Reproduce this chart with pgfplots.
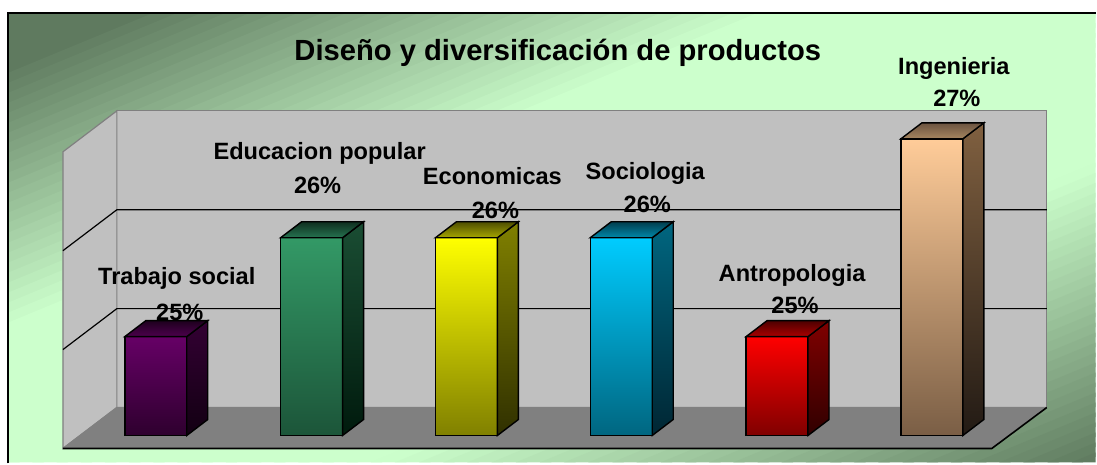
\documentclass[border=0pt]{standalone}
\usepackage{pgfplots}
\pgfplotsset{compat=1.18}
\usepackage{fontspec}
\setmainfont{Liberation Sans}

\definecolor{bgdark}{HTML}{5F7A5F}
\definecolor{bglight}{HTML}{CCFFCC}
\definecolor{wall}{HTML}{C0C0C0}
\definecolor{wallline}{HTML}{808080}
\definecolor{floorc}{HTML}{808080}
% bar colours: front top / front bottom / side top / side bottom / top back / top front
\definecolor{pA}{HTML}{660066}\definecolor{pB}{HTML}{2E002E}\definecolor{pC}{HTML}{330033}\definecolor{pD}{HTML}{120012}\definecolor{pE}{HTML}{1E001E}\definecolor{pF}{HTML}{4D004D}
\definecolor{gA}{HTML}{339966}\definecolor{gB}{HTML}{1C5539}\definecolor{gC}{HTML}{1A4D33}\definecolor{gD}{HTML}{001A0D}\definecolor{gE}{HTML}{0F2E1F}\definecolor{gF}{HTML}{267350}
\definecolor{yA}{HTML}{FFFF00}\definecolor{yB}{HTML}{808000}\definecolor{yC}{HTML}{808000}\definecolor{yD}{HTML}{303000}\definecolor{yE}{HTML}{4D4D00}\definecolor{yF}{HTML}{A6A600}
\definecolor{cA}{HTML}{00CCFF}\definecolor{cB}{HTML}{006680}\definecolor{cC}{HTML}{006680}\definecolor{cD}{HTML}{002633}\definecolor{cE}{HTML}{003D4D}\definecolor{cF}{HTML}{0088AA}
\definecolor{rA}{HTML}{FF0000}\definecolor{rB}{HTML}{800000}\definecolor{rC}{HTML}{800000}\definecolor{rD}{HTML}{300000}\definecolor{rE}{HTML}{4D0000}\definecolor{rF}{HTML}{AA0000}
\definecolor{tA}{HTML}{FFCC99}\definecolor{tB}{HTML}{7A5E45}\definecolor{tC}{HTML}{806040}\definecolor{tD}{HTML}{221A14}\definecolor{tE}{HTML}{6B5340}\definecolor{tF}{HTML}{A68660}

\newcommand{\lab}{\bfseries\fontsize{11.8}{14}\selectfont}
\pgfplotsset{
  face/.style 2 args={draw=black, line width=0.7pt, top color=#1, bottom color=#2},
}

\begin{document}
\begin{tikzpicture}
% diagonal background gradient inside the chart frame
\begin{scope}
\clip (4pt,0.5pt) rectangle (548.5pt,225.5pt);
\begin{scope}[shift={(4pt,225.5pt)}, x={(544.5pt,0pt)}, y={(0pt,-225pt)}]
\foreach \i in {0,...,89}{
  \pgfmathsetmacro\tm{(\i+0.5)/90}
  \pgfmathsetmacro\gp{100*max(0,min(1,min((\tm-0.06)/0.29,(1-\tm)/0.33)))}
  \pgfmathsetmacro\ca{2*\i/90}
  \pgfmathsetmacro\cb{2*(\i+1)/90+0.01}
  \fill[overlay, bglight!\gp!bgdark] (\ca,0) -- (\cb,0) -- (\cb-1,1) -- (\ca-1,1) -- cycle;
}
\end{scope}
\end{scope}
\begin{axis}[
  scale only axis,
  width=548.5pt, height=232pt,
  xmin=0, xmax=1097, ymin=23.7172, ymax=28.4040,
  axis line style={draw=none},
  xtick=\empty, ytick=\empty,
  clip=false,
]
% frame
\draw[line width=1.3pt] (8,23.7172) -- (8,28.2727) -- (1097,28.2727);

% back wall
\fill[wall] (117,24.2828) rectangle (1048,27.2828);
\draw[wallline, line width=0.6pt] (117,24.2828) rectangle (1048,27.2828);
% side wall
\fill[wall] (63,23.8687) -- (117,24.2828) -- (117,27.2828) -- (63,26.8687) -- cycle;
\draw[wallline, line width=0.6pt] (63,23.8687) -- (117,24.2828) -- (117,27.2828) -- (63,26.8687) -- cycle;
% gridlines
\draw[black, line width=0.6pt] (63,24.8687) -- (117,25.2828) -- (1048,25.2828);
\draw[black, line width=0.6pt] (63,25.8687) -- (117,26.2828) -- (1048,26.2828);
% floor
\fill[floorc] (63,23.8687) -- (993,23.8687) -- (1048,24.2828) -- (117,24.2828) -- cycle;
\draw[wallline, line width=0.6pt] (63,23.8687) -- (117,24.2828) -- (1048,24.2828);
\draw[black, line width=0.8pt] (63,23.8687) -- (993,23.8687) -- (1048,24.2828);

% ---- Trabajo social 25
\addplot[face={pA}{pB}] coordinates {(125,24) (187,24) (187,25) (125,25)} -- cycle;
\addplot[face={pC}{pD}] coordinates {(187,24) (208,24.1616) (208,25.1616) (187,25)} -- cycle;
\addplot[face={pE}{pF}] coordinates {(125,25) (187,25) (208,25.1616) (146,25.1616)} -- cycle;
% ---- Educacion popular 26
\addplot[face={gA}{gB}] coordinates {(281,24) (343,24) (343,26) (281,26)} -- cycle;
\addplot[face={gC}{gD}] coordinates {(343,24) (364,24.1616) (364,26.1616) (343,26)} -- cycle;
\addplot[face={gE}{gF}] coordinates {(281,26) (343,26) (364,26.1616) (302,26.1616)} -- cycle;
% ---- Economicas 26
\addplot[face={yA}{yB}] coordinates {(436,24) (498,24) (498,26) (436,26)} -- cycle;
\addplot[face={yC}{yD}] coordinates {(498,24) (519,24.1616) (519,26.1616) (498,26)} -- cycle;
\addplot[face={yE}{yF}] coordinates {(436,26) (498,26) (519,26.1616) (457,26.1616)} -- cycle;
% ---- Sociologia 26
\addplot[face={cA}{cB}] coordinates {(591,24) (653,24) (653,26) (591,26)} -- cycle;
\addplot[face={cC}{cD}] coordinates {(653,24) (674,24.1616) (674,26.1616) (653,26)} -- cycle;
\addplot[face={cE}{cF}] coordinates {(591,26) (653,26) (674,26.1616) (612,26.1616)} -- cycle;
% ---- Antropologia 25
\addplot[face={rA}{rB}] coordinates {(747,24) (809,24) (809,25) (747,25)} -- cycle;
\addplot[face={rC}{rD}] coordinates {(809,24) (830,24.1616) (830,25.1616) (809,25)} -- cycle;
\addplot[face={rE}{rF}] coordinates {(747,25) (809,25) (830,25.1616) (768,25.1616)} -- cycle;
% ---- Ingenieria 27
\addplot[face={tA}{tB}] coordinates {(902,24) (964,24) (964,27) (902,27)} -- cycle;
\addplot[face={tC}{tD}] coordinates {(964,24) (985,24.1616) (985,27.1616) (964,27)} -- cycle;
\addplot[face={tE}{tF}] coordinates {(902,27) (964,27) (985,27.1616) (923,27.1616)} -- cycle;

% title
\node[anchor=base, inner sep=0pt] at (558.5,27.7879) {\bfseries\fontsize{14.6}{17}\selectfont Diseño y diversificación de productos};
% data labels
\node[anchor=base, inner sep=0pt] at (177,25.5253) {\lab Trabajo social};
\node[anchor=base, inner sep=0pt] at (180,25.1616) {\lab 25\%};
\node[anchor=base, inner sep=0pt] at (320,26.7879) {\lab Educacion popular};
\node[anchor=base, inner sep=0pt] at (318,26.4444) {\lab 26\%};
\node[anchor=base, inner sep=0pt] at (493,26.5354) {\lab Economicas};
\node[anchor=base, inner sep=0pt] at (496,26.1919) {\lab 26\%};
\node[anchor=base, inner sep=0pt] at (646,26.5859) {\lab Sociologia};
\node[anchor=base, inner sep=0pt] at (648,26.2525) {\lab 26\%};
\node[anchor=base, inner sep=0pt] at (793,25.5556) {\lab Antropologia};
\node[anchor=base, inner sep=0pt] at (796,25.2323) {\lab 25\%};
\node[anchor=base, inner sep=0pt] at (955,27.6465) {\lab Ingenieria};
\node[anchor=base, inner sep=0pt] at (958,27.3232) {\lab 27\%};
\end{axis}
\end{tikzpicture}
\end{document}
